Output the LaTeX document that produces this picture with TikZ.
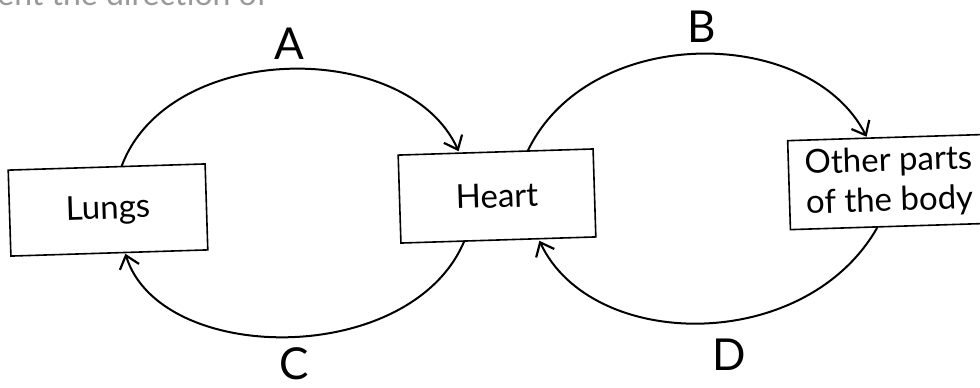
\documentclass[tikz,border=0pt]{standalone}
\usepackage{fontspec}
\setmainfont{Lato}
\usepackage{tikz}
\usetikzlibrary{arrows.meta}

\begin{document}
\begin{tikzpicture}[x=0.5pt, y=-0.5pt,
    organ/.style={draw, line width=0.8pt, rotate=1.8, inner sep=0pt,
                  font=\fontsize{16.5}{20}\selectfont, align=center},
    flow/.style={line width=1pt, -{Straight Barb[length=6pt, width=10pt, line width=1.1pt]}},
    letter/.style={font=\fontsize{22}{24}\selectfont}]
  \useasboundingbox (0,0) rectangle (980,387);

  %--- cut-off line of the question above ---
  \node[anchor=base west, inner sep=0pt, text=gray!80, font=\fontsize{16}{18}\selectfont]
    (head) at (-3,5) {ent the direction of};

  %--- the three boxes ---
  \node[organ, minimum width=98.5pt, minimum height=43pt] (lungs) at (108,210) {Lungs};
  \node[organ, minimum width=97.5pt, minimum height=44pt] (heart) at (497,196) {Heart};
  \node[organ, minimum width=100pt, minimum height=44.5pt] (body) at (889,182)
    {Other parts\\of the body};

  %--- A : lungs to heart ---
  \draw[flow] ([xshift=7.5pt]lungs.north) .. controls +(47,-126) and +(-51,-113)
    .. ([xshift=-18.5pt]heart.north);
  \node[letter] (lblA) at (289,44) {A};

  %--- B : heart to body ---
  \draw[flow] ([xshift=16pt]heart.north) .. controls +(61,-128) and +(-57,-112)
    .. ([xshift=-10.5pt]body.north);
  \node[letter] (lblB) at (702,27) {B};

  %--- C : heart to lungs ---
  \draw[flow] ([xshift=-17pt]heart.south) .. controls +(-53,127) and +(35,112)
    .. ([xshift=8pt]lungs.south);
  \node[letter] (lblC) at (294,364) {C};

  %--- D : body to heart ---
  \draw[flow] ([xshift=-6.5pt]body.south) .. controls +(-72,127) and +(52,111)
    .. ([xshift=20.5pt]heart.south);
  \node[letter] (lblD) at (729,355) {D};

\end{tikzpicture}
\end{document}
